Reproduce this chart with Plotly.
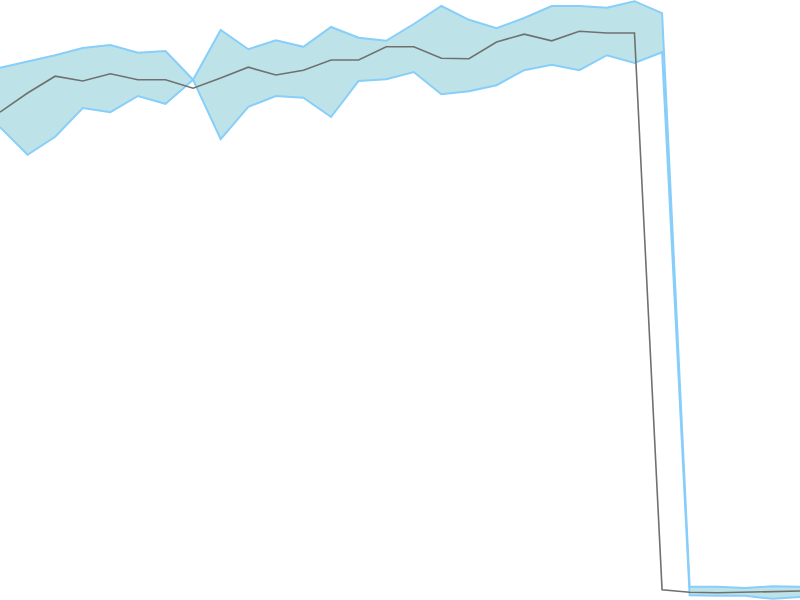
import plotly.graph_objects as go

# 30 time steps, band values are read one step ahead of the mean line
steps = list(range(30))

mean_vals = [81.3, 84.5, 87.3, 86.5, 87.7, 86.7, 86.7, 85.3, 87.0, 88.8,
             87.5, 88.3, 90.0, 90.0, 92.2, 92.2, 90.3, 90.2, 93.0, 94.3,
             93.2, 94.8, 94.5, 94.5, 1.7, 1.3, 1.2, 1.3, 1.5, 1.5]

upper_vals = [88.7, 89.7, 90.8, 92.0, 92.5, 91.2, 91.5, 86.7, 95.0, 91.8,
              93.3, 92.2, 95.5, 93.7, 93.2, 96.0, 99.0, 96.7, 95.3, 97.0,
              99.0, 99.0, 98.7, 99.8, 97.8, 2.2, 2.2, 2.0, 2.3, 2.2]

lower_vals = [78.8, 74.2, 77.2, 82.0, 81.3, 84.0, 82.7, 86.7, 76.8, 82.2,
              84.0, 83.7, 80.5, 86.5, 86.8, 88.0, 84.3, 84.8, 85.8, 88.3,
              89.2, 88.3, 90.8, 89.5, 91.3, 0.8, 0.7, 0.7, 0.2, 0.5]

band_line = "rgb(135,206,250)"
band_fill = "rgb(189,227,232)"

fig = go.Figure()

# band: lower first, then upper filled down to it
fig.add_trace(go.Scatter(x=steps, y=lower_vals, mode="lines",
                         line=dict(color=band_line, width=2),
                         showlegend=False, hoverinfo="skip"))
fig.add_trace(go.Scatter(x=steps, y=upper_vals, mode="lines",
                         line=dict(color=band_line, width=2),
                         fill="tonexty", fillcolor=band_fill,
                         showlegend=False, hoverinfo="skip"))

fig.add_trace(go.Scatter(x=steps, y=mean_vals, mode="lines",
                         line=dict(color="rgb(112,112,112)", width=1.6),
                         showlegend=False))

fig.update_layout(
    width=800, height=600,
    margin=dict(l=0, r=0, t=0, b=0),
    paper_bgcolor="white", plot_bgcolor="white",
    xaxis=dict(visible=False, range=[0, 29]),
    yaxis=dict(visible=False, range=[0, 100]),
)

# drop the browser's default body margin so the plot sits flush
fig.write_html("out.html", config={"displayModeBar": False},
               post_script="document.body.style.margin='0';")
